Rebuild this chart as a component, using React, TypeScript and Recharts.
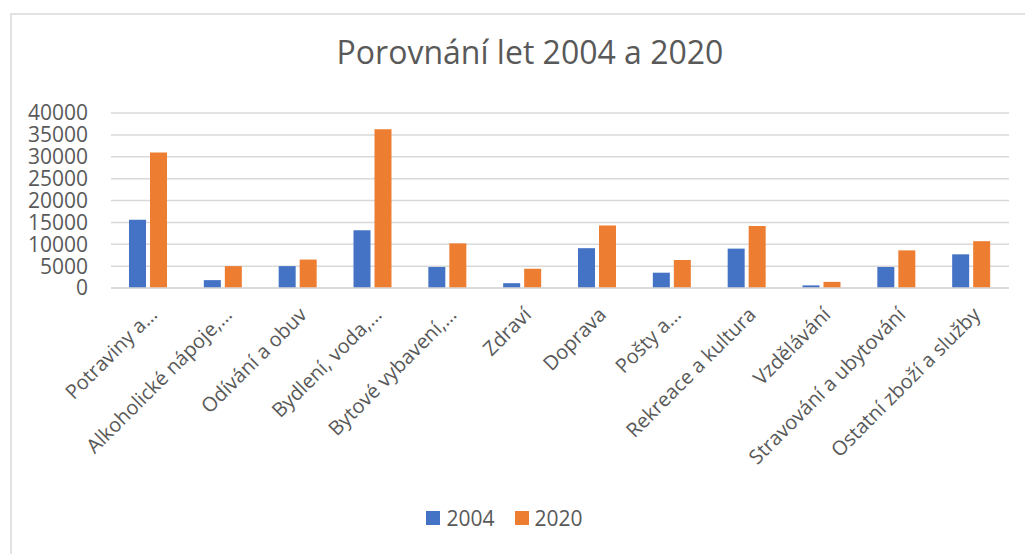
import { Bar, BarChart, CartesianGrid, Legend, XAxis, YAxis } from "recharts";

const categories = [
  "Potraviny a…",
  "Alkoholické nápoje,…",
  "Odívání a obuv",
  "Bydlení, voda,…",
  "Bytové vybavení,…",
  "Zdraví",
  "Doprava",
  "Pošty a…",
  "Rekreace a kultura",
  "Vzdělávání",
  "Stravování a ubytování",
  "Ostatní zboží a služby",
];
const values2004 = [15600, 1800, 5000, 13200, 4800, 1100, 9100, 3500, 9000, 600, 4800, 7700];
const values2020 = [31000, 5000, 6500, 36300, 10200, 4400, 14300, 6400, 14200, 1400, 8600, 10700];
const yTicks = [0, 5000, 10000, 15000, 20000, 25000, 30000, 35000, 40000];
const seriesNames = ["2004", "2020"];
const seriesColors = ["#4472C4", "#ED7D31"];

const data = categories.map((name, i) => ({
  name,
  y2004: values2004[i],
  y2020: values2020[i],
}));

const FONT = "'Open Sans', sans-serif";
const TEXT = "#595959";

function CategoryTick({ x, y, payload }: any) {
  return (
    <g transform={`translate(${x + 10},${y + 20})`}>
      <text
        x={0}
        y={0}
        textAnchor="end"
        transform="rotate(-45)"
        fill={TEXT}
        fontSize={20}
        fontFamily={FONT}
      >
        {payload.value}
      </text>
    </g>
  );
}

function LegendContent() {
  return (
    <div style={{ display: "flex", justifyContent: "center", gap: 20, fontFamily: FONT, fontSize: 21, color: TEXT }}>
      {seriesNames.map((s, i) => (
        <div key={s} style={{ display: "flex", alignItems: "center", gap: 6 }}>
          <span style={{ display: "inline-block", width: 14, height: 14, background: seriesColors[i] }} />
          <span>{s}</span>
        </div>
      ))}
    </div>
  );
}

export default function App() {
  return (
    <div style={{ position: "absolute", left: 0, top: 0, width: 1025, height: 554, background: "#fff", overflow: "hidden" }}>
      <div
        style={{
          position: "absolute",
          left: 10,
          top: 13,
          width: 1030,
          height: 560,
          borderTop: "2px solid #e2e2e2",
          borderLeft: "2px solid #e2e2e2",
        }}
      />
      <div
        style={{
          position: "absolute",
          left: 0,
          top: 30,
          width: 1060,
          textAlign: "center",
          fontFamily: FONT,
          fontSize: 32,
          color: TEXT,
        }}
      >
        Porovnání let 2004 a 2020
      </div>
      <div style={{ position: "absolute", left: 0, top: 0 }}>
        <BarChart
          width={1025}
          height={554}
          data={data}
          margin={{ top: 113, right: 16, left: 0, bottom: 20 }}
          barGap={4}
          barSize={17}
        >
          <CartesianGrid vertical={false} stroke="#d9d9d9" strokeWidth={1.5} />
          <XAxis
            dataKey="name"
            interval={0}
            height={216}
            tick={<CategoryTick />}
            tickLine={false}
            axisLine={{ stroke: "#d9d9d9", strokeWidth: 1.5 }}
          />
          <YAxis
            domain={[0, 40000]}
            ticks={yTicks}
            interval={0}
            width={111}
            axisLine={false}
            tickLine={false}
            tickSize={0}
            tickMargin={23}
            tick={{ fill: TEXT, fontSize: 21, fontFamily: FONT }}
          />
          <Legend verticalAlign="bottom" height={30} content={<LegendContent />} />
          <Bar dataKey="y2004" name="2004" fill={seriesColors[0]} isAnimationActive={false} />
          <Bar dataKey="y2020" name="2020" fill={seriesColors[1]} isAnimationActive={false} />
        </BarChart>
      </div>
    </div>
  );
}
